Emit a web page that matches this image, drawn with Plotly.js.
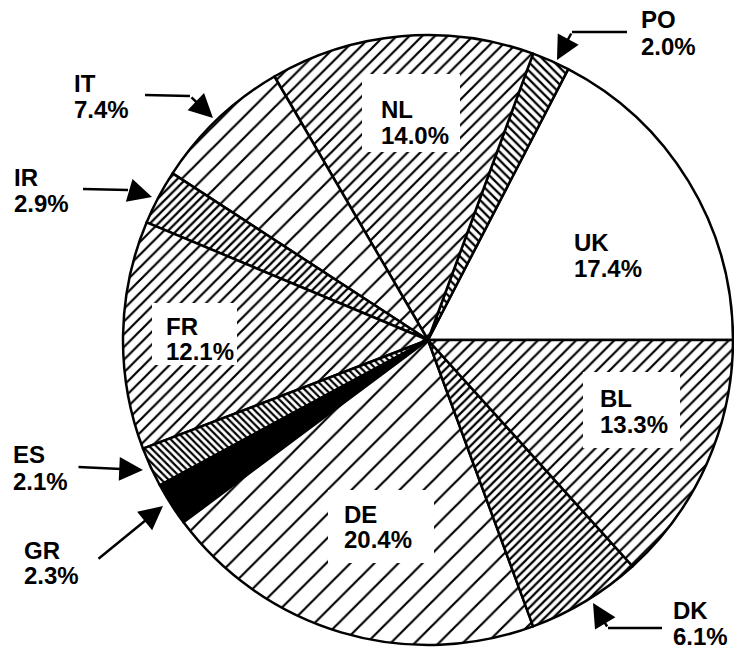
<!DOCTYPE html>
<html>
<head>
<meta charset="utf-8">
<script src="https://cdn.plot.ly/plotly-3.0.1.min.js"></script>
<style>html,body{margin:0;padding:0;background:#fff;}#chart{width:734px;height:653px;}</style>
</head>
<body>
<div id="chart"></div>
<script>
// ---- data (counterclockwise from 3 o'clock) ----
const labels = ['UK', 'PO', 'NL', 'IT', 'IR', 'FR', 'ES', 'GR', 'DE', 'DK', 'BL'];
const values = [17.4, 2.0, 14.0, 7.4, 2.9, 12.1, 2.1, 2.3, 20.4, 6.1, 13.3];

// ---- styles ----
const sliceColors = ['white', 'white', 'white', 'white', 'white', 'white', 'white', 'black', 'white', 'white', 'white'];
const hatchShapes = ['', '\\', '/', '/', '/', '/', '\\', '', '/', '/', '/'];
const hatchSizes  = [8, 6, 9, 15, 6, 9, 5, 8, 17, 6, 9];

const W = 734, H = 653;
const px = x => x / W;
const py = y => 1 - y / H;

// label layout (pixel positions of cap-centre of each line, left x)
const labelPos = {
  UK: {x: 573, y1: 242, y2: 268, box: null},
  PO: {x: 640, y1: 19,  y2: 46,  box: null},
  NL: {x: 380, y1: 109, y2: 135, box: [362, 74, 460, 152]},
  IT: {x: 73,  y1: 84,  y2: 110, box: null},
  IR: {x: 13,  y1: 177, y2: 203, box: null},
  FR: {x: 165, y1: 326, y2: 351, box: [152, 303, 237, 365]},
  ES: {x: 12,  y1: 454, y2: 481, box: null},
  GR: {x: 23,  y1: 550, y2: 575, box: null},
  DE: {x: 343, y1: 514, y2: 539, box: [328, 490, 434, 563]},
  DK: {x: 672, y1: 610, y2: 636, box: null},
  BL: {x: 599, y1: 398, y2: 424, box: [583, 372, 680, 448]}
};
// arrow layout: polyline points in pixels, last point = arrow tip
const arrowPaths = {
  PO: [[627, 32], [572, 32], [557, 60]],
  IT: [[145, 95], [190, 96], [213, 118]],
  IR: [[83, 189], [128, 190], [152, 197]],
  ES: [[77, 467], [143, 470]],
  GR: [[97, 560], [163, 506]],
  DK: [[662, 628], [608, 628], [593, 603]]
};

const total = values.reduce((a, b) => a + b, 0);

const trace = {
  type: 'pie',
  labels: labels,
  values: values,
  sort: false,
  direction: 'counterclockwise',
  // plotly puts the END of the first slice at `rotation` when counterclockwise
  rotation: 90 - 360 * values[0] / total,
  textinfo: 'none',
  hoverinfo: 'label+percent',
  domain: {x: [123 / W, 733 / W], y: [1 - 645 / H, 1 - 35 / H]},
  marker: {
    colors: sliceColors,
    line: {color: 'black', width: 2.5},
    pattern: {
      shape: hatchShapes,
      size: hatchSizes,
      solidity: hatchSizes.map(s => Math.min(0.9, 2.2 / s)),
      fgcolor: 'black',
      bgcolor: sliceColors,
      fillmode: 'replace'
    }
  }
};

const font = {family: 'Liberation Sans, Arial, sans-serif', size: 24, color: 'black', weight: 'bold'};
const annotations = [];
const shapes = [];

labels.forEach((lab, i) => {
  const p = labelPos[lab];
  if (p.box) {
    shapes.push({type: 'rect', xref: 'paper', yref: 'paper',
      x0: px(p.box[0]), x1: px(p.box[2]), y0: py(p.box[3]), y1: py(p.box[1]),
      fillcolor: 'white', line: {width: 0}, layer: 'above'});
  }
  annotations.push({xref: 'paper', yref: 'paper', x: px(p.x), y: py(p.y1),
    xanchor: 'left', yanchor: 'middle', text: '<b>' + lab + '</b>', showarrow: false, font: font, borderpad: 0});
  annotations.push({xref: 'paper', yref: 'paper', x: px(p.x), y: py(p.y2),
    xanchor: 'left', yanchor: 'middle', text: '<b>' + values[i].toFixed(1) + '%</b>', showarrow: false, font: font, borderpad: 0});
  const a = arrowPaths[lab];
  if (a) {
    for (let k = 0; k < a.length - 2; k++) {
      shapes.push({type: 'line', xref: 'paper', yref: 'paper',
        x0: px(a[k][0]), y0: py(a[k][1]), x1: px(a[k + 1][0]), y1: py(a[k + 1][1]),
        line: {color: 'black', width: 2.5}, layer: 'above'});
    }
    const tail = a[a.length - 2], tip = a[a.length - 1];
    annotations.push({xref: 'paper', yref: 'paper', x: px(tip[0]), y: py(tip[1]),
      ax: tail[0] - tip[0], ay: tail[1] - tip[1], text: '', showarrow: true,
      arrowhead: 2, arrowsize: 1.9, arrowwidth: 2.5, arrowcolor: 'black', standoff: 0, startstandoff: 0});
  }
});

const layout = {
  width: W, height: H,
  margin: {l: 0, r: 0, t: 0, b: 0},
  paper_bgcolor: 'white',
  showlegend: false,
  annotations: annotations,
  shapes: shapes
};

Plotly.newPlot('chart', [trace], layout, {displayModeBar: false, staticPlot: true});
</script>
</body>
</html>
